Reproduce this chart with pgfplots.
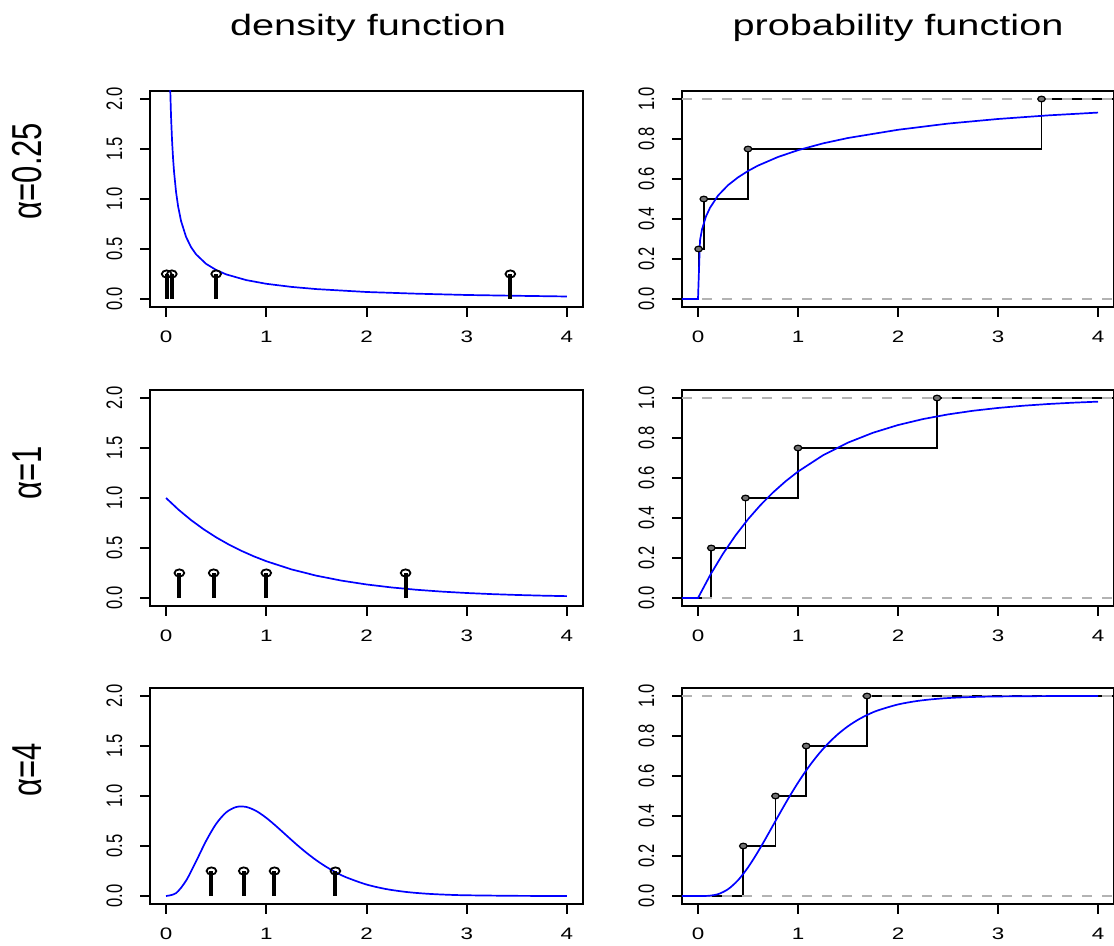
\documentclass[border=0pt]{standalone}
\usepackage{pgfplots}
\pgfplotsset{compat=1.18}
\usepackage{fontspec}
\setmainfont{Liberation Sans}
\definecolor{rblue}{RGB}{0,0,255}
\definecolor{gray70}{RGB}{179,179,179}

\pgfplotsset{
  panel/.style={
    scale only axis, anchor=south west, height=108pt,
    xmin=-0.16, xmax=4.16, xtick={0,1,2,3,4},
    axis line style={line width=1pt},
    tick align=outside, xtick pos=left, ytick pos=left,
    major tick length=5pt,
    tick style={black, line width=1pt},
    /pgf/number format/assume math mode=true,
    ticklabel style={font=\fontsize{8.3}{10}\selectfont, inner sep=0pt},
    xticklabel style={anchor=north, xscale=1.35},
    yticklabel style={xscale=1.35, rotate=90, anchor=south,
      /pgf/number format/fixed, /pgf/number format/fixed zerofill,
      /pgf/number format/precision=1},
    xticklabel shift=7pt, yticklabel shift=8.5pt,
    scaled y ticks=false,
  },
  dens/.style={panel, width=216.5pt, ymin=-0.08, ymax=2.08, ytick={0,0.5,1,1.5,2}},
  prob/.style={panel, width=216pt, ymin=-0.04, ymax=1.04, ytick={0,0.2,0.4,0.6,0.8,1}},
  curve/.style={rblue, line width=0.85pt},
  stem/.style={ycomb, black, line width=2pt},
  ring/.style={only marks, mark=o, mark size=1.8pt, mark options={xscale=1.35, black, line width=0.9pt}},
  step/.style={const plot, black, line width=0.85pt},
  dot/.style={only marks, mark=*, mark size=1.4pt, mark options={xscale=1.35, draw=black, fill=black!55, line width=0.6pt}},
  guide/.style={gray70, line width=0.8pt, dash pattern=on 5pt off 5pt},
}

\begin{document}
\begin{tikzpicture}
\useasboundingbox (0,0) rectangle (557pt,473pt);

% column titles
\node[anchor=base, inner sep=0pt, xscale=1.35, font=\fontsize{14.7}{17}\selectfont] at (184pt,455pt) {density function};
\node[anchor=base, inner sep=0pt, xscale=1.35, font=\fontsize{14.7}{17}\selectfont] at (449pt,455pt) {probability function};

% row labels
\node[inner sep=0pt, xscale=1.35, rotate=90, font=\fontsize{15.5}{18}\selectfont] at (13.75pt,387.5pt) {α=0.25};
\node[inner sep=0pt, xscale=1.35, rotate=90, font=\fontsize{15.5}{18}\selectfont] at (13.75pt,236.75pt) {α=1};
\node[inner sep=0pt, xscale=1.35, rotate=90, font=\fontsize{15.5}{18}\selectfont] at (13.75pt,88pt) {α=4};

% ---- alpha = 0.25
\begin{axis}[dens, at={(75pt,319.5pt)}]
  \addplot[curve] coordinates {
    (0.04,2.159) (0.05,1.822) (0.06,1.585) (0.07,1.408) (0.08,1.271) (0.10,1.070)
    (0.12,0.928) (0.15,0.779) (0.2,0.620) (0.25,0.518) (0.3,0.446) (0.4,0.351)
    (0.5,0.290) (0.6,0.246) (0.8,0.189) (1.0,0.152) (1.25,0.121) (1.5,0.099)
    (2,0.070) (2.5,0.053) (3,0.040) (3.5,0.032) (4,0.025)};
  \addplot[stem] coordinates {(0.006,0.25) (0.058,0.25) (0.5,0.25) (3.435,0.25)};
  \addplot[ring] coordinates {(0.006,0.25) (0.058,0.25) (0.5,0.25) (3.435,0.25)};
\end{axis}
\begin{axis}[prob, at={(341pt,319.5pt)}]
  \addplot[step] coordinates {(-0.3,0) (0.006,0.25) (0.058,0.5) (0.5,0.75) (3.435,1) (4.5,1)};
  \addplot[dot] coordinates {(0.006,0.25) (0.058,0.5) (0.5,0.75) (3.435,1)};
  \addplot[guide] coordinates {(-0.16,0) (4.16,0)};
  \addplot[guide] coordinates {(-0.16,1) (4.16,1)};
  \addplot[curve] coordinates {
    (-0.3,0) (0,0) (0.02,0.293) (0.04,0.348) (0.08,0.413) (0.12,0.456) (0.2,0.517)
    (0.3,0.569) (0.4,0.608) (0.5,0.640) (0.6,0.667) (0.8,0.710) (1.0,0.744)
    (1.25,0.778) (1.5,0.805) (2,0.846) (2.5,0.877) (3,0.900) (3.5,0.918) (4,0.932)};
\end{axis}

% ---- alpha = 1
\begin{axis}[dens, at={(75pt,170pt)}]
  \addplot[curve] coordinates {
    (0,1) (0.125,0.8825) (0.25,0.7788) (0.375,0.6873) (0.5,0.6065) (0.625,0.5353)
    (0.75,0.4724) (0.875,0.4169) (1,0.3679) (1.25,0.2865) (1.5,0.2231) (1.75,0.1738)
    (2,0.1353) (2.25,0.1054) (2.5,0.0821) (2.75,0.0639) (3,0.0498) (3.25,0.0388)
    (3.5,0.0302) (3.75,0.0235) (4,0.0183)};
  \addplot[stem] coordinates {(0.133,0.25) (0.475,0.25) (1.0,0.25) (2.39,0.25)};
  \addplot[ring] coordinates {(0.133,0.25) (0.475,0.25) (1.0,0.25) (2.39,0.25)};
\end{axis}
\begin{axis}[prob, at={(341pt,170pt)}]
  \addplot[step] coordinates {(-0.3,0) (0.133,0.25) (0.475,0.5) (1.0,0.75) (2.39,1) (4.5,1)};
  \addplot[dot] coordinates {(0.133,0.25) (0.475,0.5) (1.0,0.75) (2.39,1)};
  \addplot[guide] coordinates {(-0.16,0) (4.16,0)};
  \addplot[guide] coordinates {(-0.16,1) (4.16,1)};
  \addplot[curve] coordinates {
    (-0.3,0) (0,0) (0.125,0.1175) (0.25,0.2212) (0.375,0.3127) (0.5,0.3935)
    (0.625,0.4647) (0.75,0.5276) (0.875,0.5831) (1,0.6321) (1.25,0.7135)
    (1.5,0.7769) (1.75,0.8262) (2,0.8647) (2.25,0.8946) (2.5,0.9179) (2.75,0.9361)
    (3,0.9502) (3.25,0.9612) (3.5,0.9698) (3.75,0.9765) (4,0.9817)};
\end{axis}

% ---- alpha = 4
\begin{axis}[dens, at={(75pt,21pt)}]
  \addplot[curve, smooth] coordinates {
    (0,0) (0.1,0.0286) (0.2,0.1534) (0.3,0.3470) (0.4,0.5513) (0.5,0.7218)
    (0.6,0.8361) (0.7,0.8899) (0.8,0.8905) (0.9,0.8499) (1.0,0.7815) (1.1,0.6972)
    (1.2,0.6068) (1.3,0.5171) (1.4,0.4329) (1.5,0.3569) (1.6,0.2904) (1.7,0.2335)
    (1.8,0.1858) (2.0,0.1145) (2.2,0.0685) (2.4,0.0399) (2.6,0.0228) (2.8,0.0128)
    (3.0,0.0071) (3.5,0.0015) (4.0,0.0003)};
  \addplot[stem] coordinates {(0.453,0.25) (0.775,0.25) (1.082,0.25) (1.69,0.25)};
  \addplot[ring] coordinates {(0.453,0.25) (0.775,0.25) (1.082,0.25) (1.69,0.25)};
\end{axis}
\begin{axis}[prob, at={(341pt,21pt)}]
  \addplot[step] coordinates {(-0.3,0) (0.453,0.25) (0.775,0.5) (1.082,0.75) (1.69,1) (4.5,1)};
  \addplot[dot] coordinates {(0.453,0.25) (0.775,0.5) (1.082,0.75) (1.69,1)};
  \addplot[guide] coordinates {(-0.16,0) (4.16,0)};
  \addplot[guide] coordinates {(-0.16,1) (4.16,1)};
  \addplot[curve, smooth] coordinates {
    (-0.3,0) (0,0) (0.1,0.0008) (0.2,0.0091) (0.3,0.0338) (0.4,0.0788) (0.5,0.1429)
    (0.6,0.2213) (0.7,0.3081) (0.8,0.3975) (0.9,0.4848) (1.0,0.5665) (1.1,0.6406)
    (1.2,0.7058) (1.3,0.7619) (1.4,0.8094) (1.5,0.8488) (1.6,0.8811) (1.7,0.9072)
    (1.8,0.9281) (2.0,0.9576) (2.2,0.9756) (2.4,0.9862) (2.6,0.9923) (2.8,0.9958)
    (3.0,0.9977) (3.5,0.9995) (4.0,0.9999)};
\end{axis}
\end{tikzpicture}
\end{document}
